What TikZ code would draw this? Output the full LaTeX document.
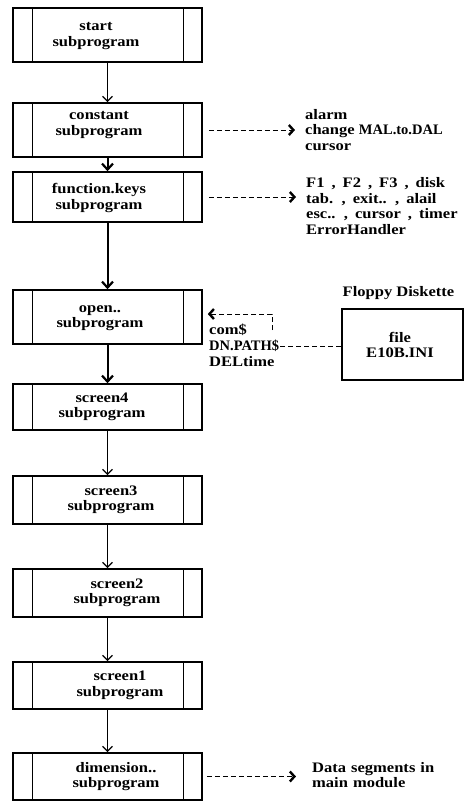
\documentclass[tikz,border=0pt]{standalone}
\usepackage{fontspec}
\setmainfont{Liberation Serif}
\newfontfamily\wide[FakeStretch=1.14]{Liberation Serif}
\newcommand\fkfont{\wide\bfseries\fontsize{14.5}{15.8}\selectfont\spaceskip=7pt\relax}
\newcommand\dmfont{\wide\bfseries\fontsize{14.5}{15.8}\selectfont\spaceskip=5pt\relax}
\usetikzlibrary{arrows.meta}
\begin{document}
\begin{tikzpicture}[x=1pt,y=-1pt,
  sub/.style={draw, line width=1.6pt, minimum width=189pt, minimum height=#1, inner sep=0pt},
  lbl/.style={font=\wide\bfseries\fontsize{14.5}{15.5}\selectfont, align=center, inner sep=0pt},
  rtxt/.style={font=\wide\bfseries\fontsize{14.5}{15.8}\selectfont, align=left, inner sep=0pt, anchor=west},
  thinarr/.style={line width=1pt, -{Straight Barb[length=5pt,width=10pt,line width=1.3pt]}},
  thickarr/.style={line width=2pt, -{Straight Barb[length=6pt,width=11pt,line width=2.2pt]}},
  dasharr/.style={line width=1pt, dash pattern=on 5pt off 3pt, -{Straight Barb[length=4.5pt,width=10pt,line width=2.4pt]}},
  dashline/.style={line width=1pt, dash pattern=on 5pt off 3pt}
]
\useasboundingbox (0,0) rectangle (467,801);
% boxes
\node[sub=54pt] (start) at (107.5,35) {};
\node[sub=54pt] (constant) at (107.5,130) {};
\node[sub=50pt] (function) at (107.5,197) {};
\node[sub=54pt] (open) at (107.5,317) {};
\node[sub=46pt] (screenfour) at (107.5,407) {};
\node[sub=48pt] (screenthree) at (107.5,500) {};
\node[sub=48pt] (screentwo) at (107.5,593) {};
\node[sub=47pt] (screenone) at (107.5,685.5) {};
\node[sub=47pt] (dimension) at (107.5,776.5) {};
\foreach \b in {start,constant,function,open,screenfour,screenthree,screentwo,screenone,dimension}{
  \draw[line width=1pt] ([xshift=20pt]\b.north west) -- ([xshift=20pt]\b.south west);
  \draw[line width=1pt] ([xshift=-19pt]\b.north east) -- ([xshift=-19pt]\b.south east);
}
% labels
\node[lbl] (startt) at (96,36) {start\\subprogram};
\node[lbl] (constantt) at (99,125) {constant\\subprogram};
\node[lbl] (functiont) at (99,198) {function.keys\\subprogram};
\node[lbl] (opent) at (100,318) {open..\\subprogram};
\node[lbl] (screenfourt) at (102,407) {screen4\\subprogram};
\node[lbl] (screenthreet) at (111,500) {screen3\\subprogram};
\node[lbl] (screentwot) at (117,593) {screen2\\subprogram};
\node[lbl] (screenonet) at (120,685.5) {screen1\\subprogram};
\node[lbl] (dimensiont) at (116,776.5) {dimension..\\subprogram};
% flow arrows
\draw[thinarr] (start.south) -- (constant.north);
\draw[thickarr] (constant.south) -- (function.north);
\draw[thickarr] (function.south) -- (open.north);
\draw[thickarr] (open.south) -- (screenfour.north);
\draw[thinarr] (screenfour.south) -- (screenthree.north);
\draw[thinarr] (screenthree.south) -- (screentwo.north);
\draw[thinarr] (screentwo.south) -- (screenone.north);
\draw[thinarr] (screenone.south) -- (dimension.north);
% right side texts
\node[rtxt] (consttxt) at (305,130) {alarm\\change {\rmfamily MAL.to.DAL}\\cursor};
\node[rtxt, font=\fkfont] (functxt) at (306,206) {F1 , F2 , F3 , disk\\tab. , exit.. , alail\\esc.. , cursor , timer\\ErrorHandler};
\node[rtxt, font=\dmfont] (dimtxt) at (312,775) {Data segments in\\main module};
\draw[dasharr, shorten <=6pt, shorten >=10pt] (constant.east) -- (consttxt.west |- constant.east);
\draw[dasharr, shorten <=6pt, shorten >=10pt] (function.east) -- (functxt.west |- function.east);
\draw[dasharr, shorten <=4pt, shorten >=16pt] (dimension.east) -- (dimtxt.west |- dimension.east);
% open inputs
\node[rtxt] (com) at (209,330) {com\$};
\node[rtxt, font=\bfseries\fontsize{14.5}{15.8}\selectfont] (dnp) at (209,346) {DN.PATH\$};
\node[rtxt] (delt) at (209,362) {DELtime};
\node[draw, line width=1.6pt, minimum width=121pt, minimum height=71pt] (floppy) at (402.5,344.5) {};
\node[lbl] (floppyt) at (400,345) {file\\E10B.INI};
\node[lbl, anchor=south] (floppyh) at (398.5,300) {Floppy Diskette};
\draw[dashline] (floppy.west |- dnp) -- ([xshift=1pt]dnp.east);
\coordinate (ca) at (272,330);
\coordinate (cb) at (272,314);
\draw[dasharr, shorten >=5pt] (ca) -- (cb) -- (open.east |- cb);
\end{tikzpicture}
\end{document}
